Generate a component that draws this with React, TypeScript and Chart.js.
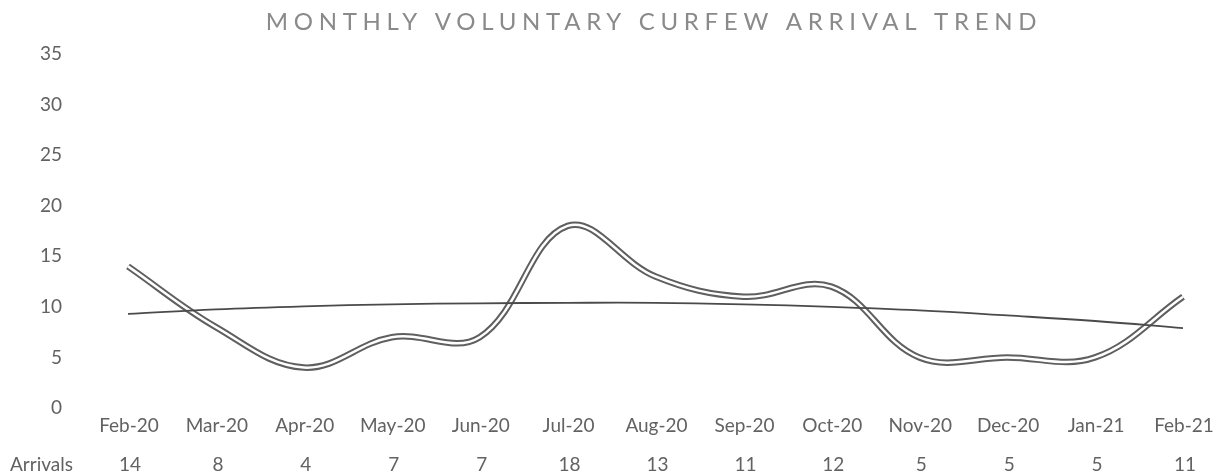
import React, { useEffect, useRef } from "react";
import { Chart, registerables } from "chart.js";

Chart.register(...registerables);

const TITLE = "MONTHLY VOLUNTARY CURFEW ARRIVAL TREND";
const MONTHS = ["Feb-20", "Mar-20", "Apr-20", "May-20", "Jun-20", "Jul-20", "Aug-20", "Sep-20", "Oct-20", "Nov-20", "Dec-20", "Jan-21", "Feb-21"];
const ARRIVALS = [14, 8, 4, 7, 7, 18, 13, 11, 12, 5, 5, 5, 11];
const TREND = [9.3, 9.75, 10.05, 10.25, 10.35, 10.4, 10.4, 10.25, 10.0, 9.65, 9.15, 8.6, 7.9];
const SERIES_NAME = "Arrivals";
const Y_TICKS = [0, 5, 10, 15, 20, 25, 30, 35];

const FONT = "Lato, 'Open Sans', sans-serif";
const TEXT = "#626262";

export default function App() {
  const ref = useRef<HTMLCanvasElement | null>(null);

  useEffect(() => {
    document.body.style.margin = "0";
    document.body.style.overflow = "hidden";
    const canvas = ref.current;
    if (!canvas) return;

    const titlePlugin = {
      id: "customTitle",
      afterDraw(chart: any) {
        const ctx = chart.ctx;
        ctx.save();
        (ctx as any).letterSpacing = "5.7px";
        ctx.font = `24px ${FONT}`;
        ctx.fillStyle = "#8a8a8a";
        ctx.textAlign = "center";
        ctx.textBaseline = "middle";
        ctx.fillText(TITLE, 654, 22);
        ctx.restore();
      },
    };

    const axisAndTablePlugin = {
      id: "axisAndTable",
      afterDraw(chart: any) {
        const ctx = chart.ctx;
        const xs = chart.scales.x;
        const ys = chart.scales.y;
        ctx.save();
        ctx.font = `19px ${FONT}`;
        ctx.fillStyle = TEXT;
        ctx.textBaseline = "middle";
        ctx.textAlign = "right";
        Y_TICKS.forEach((v) => {
          ctx.fillText(String(v), 62, ys.getPixelForValue(v));
        });
        ctx.textAlign = "left";
        ctx.fillText(SERIES_NAME, 10, 465);
        ctx.textAlign = "center";
        ARRIVALS.forEach((v, i) => {
          ctx.fillText(String(v), xs.getPixelForValue(i) + 2, 465);
        });
        ctx.restore();
      },
    };

    const chart = new Chart(canvas, {
      type: "line",
      data: {
        labels: MONTHS,
        datasets: [
          { label: "Trend", data: TREND, borderColor: "#4a4a4a", borderWidth: 1.8, pointRadius: 0, tension: 0.4, order: 0 },
          { label: SERIES_NAME + " inner", data: ARRIVALS, borderColor: "#ffffff", borderWidth: 2.5, pointRadius: 0, tension: 0.38, order: 1 },
          { label: SERIES_NAME, data: ARRIVALS, borderColor: "#5f5f5f", borderWidth: 6.5, pointRadius: 0, tension: 0.38, order: 2 },
        ],
      },
      options: {
        responsive: false,
        animation: false,
        layout: { padding: { top: 54, right: 42, left: 0, bottom: 0 } },
        plugins: { legend: { display: false }, title: { display: false }, tooltip: { enabled: false } },
        scales: {
          x: {
            offset: false,
            grid: { display: false, drawTicks: false },
            border: { display: false },
            ticks: { color: TEXT, font: { family: FONT, size: 19 }, padding: 6.6, labelOffset: 1, maxRotation: 0, autoSkip: false },
            afterFit(scale: any) { scale.height = 66; },
          },
          y: {
            min: 0,
            max: 35,
            afterBuildTicks(scale: any) { scale.ticks = Y_TICKS.map((v) => ({ value: v })); },
            grid: { display: false, drawTicks: false },
            border: { display: false },
            ticks: { display: false },
            afterFit(scale: any) { scale.width = 128; },
          },
        },
      },
      plugins: [titlePlugin, axisAndTablePlugin],
    });

    return () => chart.destroy();
  }, []);

  return (
    <div style={{ width: 1225, height: 474 }}>
      <canvas ref={ref} width={1225} height={474} style={{ display: "block" }} />
    </div>
  );
}
